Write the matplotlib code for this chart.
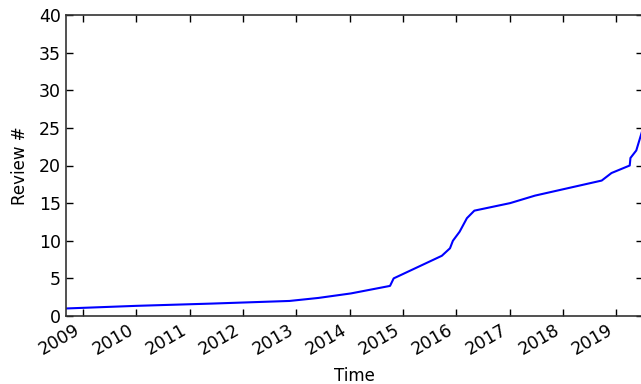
import numpy as np
import pandas as pd
import matplotlib
matplotlib.use("Agg")
import matplotlib.pyplot as plt
import matplotlib.dates as mdates


# Review count over time
dates = ["2008-09-05", "2010-01-01", "2011-06-01", "2012-11-15", "2013-06-01",
         "2014-01-10", "2014-10-05", "2014-10-30", "2015-09-25", "2015-11-20",
         "2015-12-10", "2016-01-25", "2016-03-15", "2016-05-05", "2017-01-05",
         "2017-06-25", "2018-09-25", "2018-12-01", "2019-04-05", "2019-04-10",
         "2019-05-20", "2019-06-28", "2019-07-05"]
reviews = [1.0, 1.35, 1.65, 2.0, 2.4,
           3.0, 4.0, 5.0, 8.0, 9.0,
           10.0, 11.2, 13.0, 14.0, 15.0,
           16.0, 18.0, 19.0, 20.0, 21.0,
           22.0, 24.5, 26.0]

x = pd.to_datetime(dates)

fig = plt.figure(figsize=(6.41, 3.84), dpi=100)
ax = fig.add_axes([66 / 641, 68 / 384, 577 / 641, 301 / 384])

ax.plot(x, reviews, color="blue", linewidth=1.5)

ax.set_xlim(pd.Timestamp("2008-09-05"), pd.Timestamp("2019-07-05"))
ax.set_ylim(0, 40)
ax.set_yticks(np.arange(0, 41, 5))
ax.xaxis.set_major_locator(mdates.YearLocator())
ax.xaxis.set_major_formatter(mdates.DateFormatter("%Y"))

ax.tick_params(direction="in", top=True, right=True, length=5, width=1,
               labelsize=12.5)
for lbl in ax.get_xticklabels():
    lbl.set_rotation(30)
    lbl.set_ha("right")
for s in ax.spines.values():
    s.set_linewidth(1.2)
    s.set_color("#333333")

ax.set_xlabel("Time", fontsize=12, labelpad=6)
ax.set_ylabel("Review #", fontsize=12, labelpad=7)

fig.savefig("out.png", dpi=100)
